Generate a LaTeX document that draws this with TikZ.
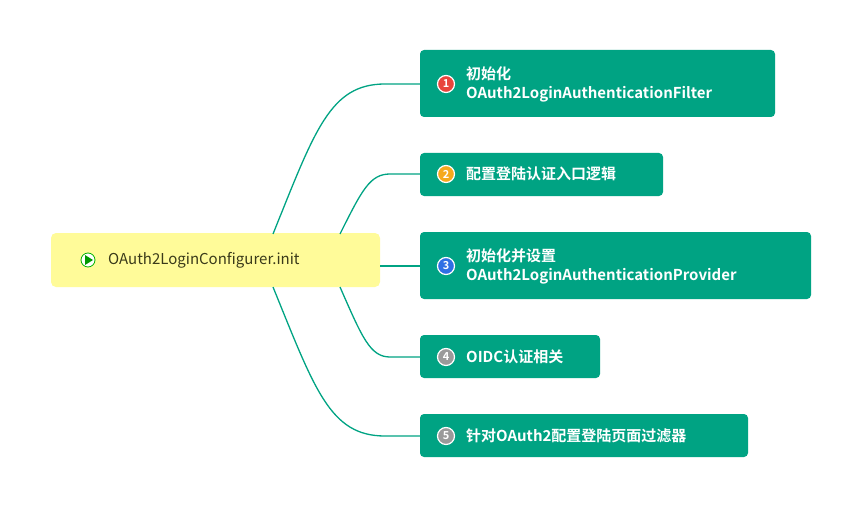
\documentclass[tikz,border=0pt]{standalone}
\usepackage{fontspec}
\setmainfont{Noto Sans CJK SC}[BoldFont={* Bold}]
\definecolor{teal1}{HTML}{00A383}
\definecolor{yel}{HTML}{FFFB99}
\definecolor{rootTxt}{HTML}{3A3A1A}
\definecolor{cRed}{HTML}{E8453C}
\definecolor{cOra}{HTML}{F5A91C}
\definecolor{cBlu}{HTML}{2F6FE4}
\definecolor{cGry}{HTML}{9A9A9A}
\begin{document}
\begin{tikzpicture}[x=1pt,y=-1pt,
  br/.style={fill=teal1,rounded corners=4pt,draw=none},
  lnk/.style={draw=teal1,line width=1.3pt},
  txt/.style={text=white,font=\fontsize{15}{19}\selectfont\bfseries,align=left,anchor=west,inner sep=0},
  num/.style={circle,fill=#1,draw=white,line width=1.2pt,minimum size=17pt,inner sep=0,text=white,font=\fontsize{11}{11}\selectfont\bfseries}]
\useasboundingbox (0,0) rectangle (862,508);
% root
\fill[yel,rounded corners=5pt] (51,233) rectangle (380,287);
\node[anchor=west,inner sep=0,text=rootTxt,font=\fontsize{15}{19}\selectfont] (root) at (108,260) {OAuth2LoginConfigurer.init};
\node[circle,draw=green!70!black,fill=white,line width=0.8pt,minimum size=14pt,inner sep=0] (play) at (88,260) {};
\fill[green!60!black] (85,255) -- (85,265) -- (93,260) -- cycle;
% connectors
\coordinate (s1) at (273,234); \coordinate (s2) at (340,234);
\coordinate (s4) at (340,287); \coordinate (s5) at (273,287);
\coordinate (s3) at (380,266);
\draw[lnk] (s1) .. controls (315,130) and (330,84) .. (385,84) -- (420,84);
\draw[lnk] (s2) .. controls (362,190) and (370,174) .. (390,174) -- (420,174);
\draw[lnk] (s3) -- (420,266);
\draw[lnk] (s4) .. controls (362,337) and (370,357) .. (390,357) -- (420,357);
\draw[lnk] (s5) .. controls (315,390) and (330,436) .. (385,436) -- (420,436);
% boxes
\fill[br] (420,50) rectangle (775,117);
\fill[br] (420,153) rectangle (663,196);
\fill[br] (420,232) rectangle (811,299);
\fill[br] (420,335) rectangle (600,378);
\fill[br] (420,414) rectangle (748,457);
\node[num=cRed] (n1) at (446,84) {1};
\node[num=cOra] (n2) at (446,174) {2};
\node[num=cBlu] (n3) at (446,266) {3};
\node[num=cGry] (n4) at (446,357) {4};
\node[num=cGry] (n5) at (446,436) {5};
\node[txt] (t1) at (466,84) {初始化\\OAuth2LoginAuthenticationFilter};
\node[txt] (t2) at (466,174) {配置登陆认证入口逻辑};
\node[txt] (t3) at (466,266) {初始化并设置\\OAuth2LoginAuthenticationProvider};
\node[txt] (t4) at (466,357) {OIDC认证相关};
\node[txt] (t5) at (466,436) {针对OAuth2配置登陆页面过滤器};
\end{tikzpicture}
\end{document}
